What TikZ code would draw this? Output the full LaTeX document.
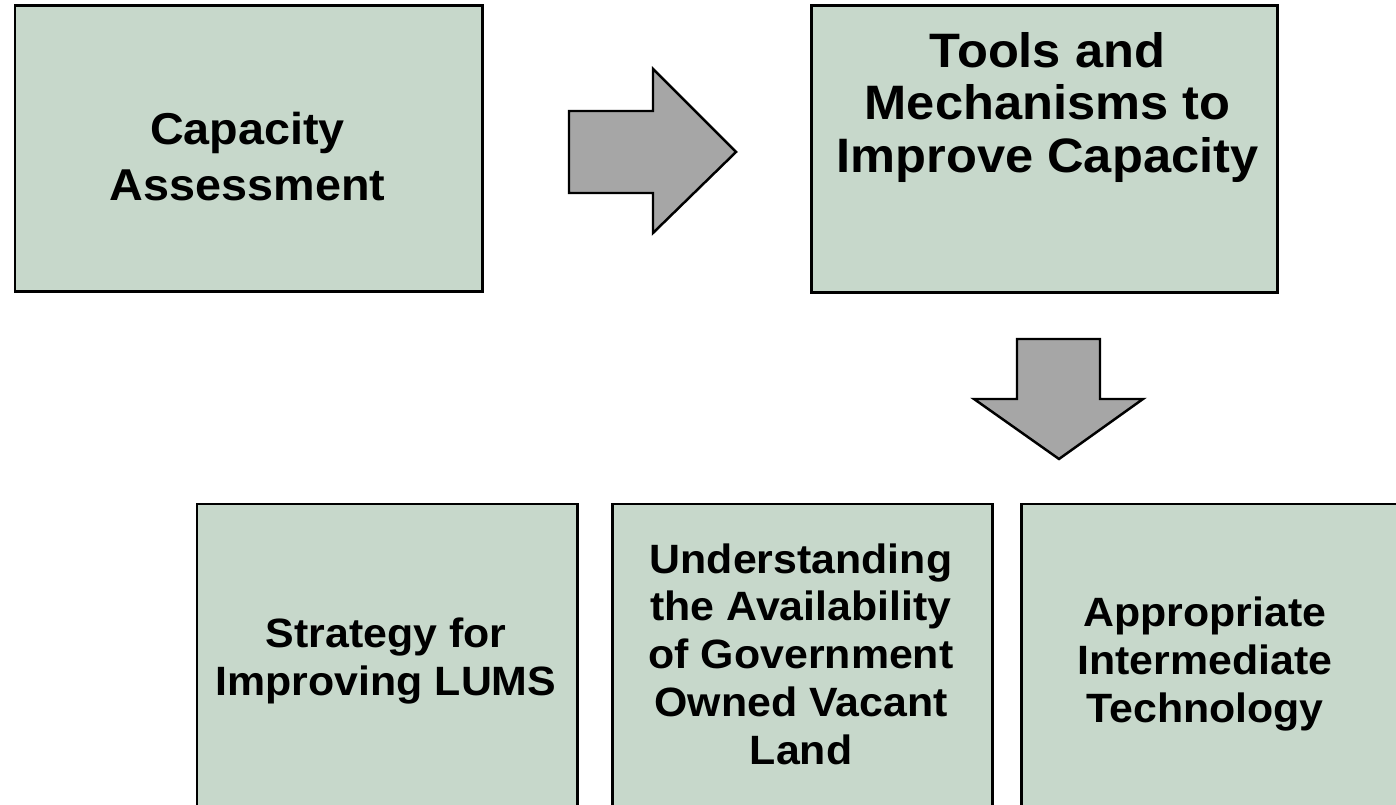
\documentclass[tikz,border=0pt]{standalone}
\usepackage{fontspec}
\setmainfont[FakeStretch=1.047]{Liberation Sans}
\definecolor{sage}{HTML}{C7D8CB}
\definecolor{arrowgray}{HTML}{A6A6A6}

\tikzstyle{box}=[shape=rectangle,draw=black,fill=sage,line width=1.7pt]
\tikzstyle{bigtext}=[align=center,inner sep=0pt,font=\bfseries\fontsize{25.4}{31.5}\selectfont]
\tikzstyle{smalltext}=[align=center,inner sep=0pt,font=\bfseries\fontsize{23.3}{27.2}\selectfont]
\tikzstyle{blockarrow}=[draw=black,fill=arrowgray,line width=1.4pt,line join=miter]

\begin{document}
\begin{tikzpicture}[]
\useasboundingbox (0,0) rectangle (27.92,16.08);
\clip (0,0) rectangle (27.92,16.08);
% top row
\node[box,minimum width=9.34cm,minimum height=5.72cm] (cap) at (4.97,13.10) {};
\node[bigtext] (capText) at (4.95,12.95) {Capacity\\Assessment};
\node[box,minimum width=9.32cm,minimum height=5.74cm] (tools) at (20.88,13.09) {};
\node[bigtext,font=\bfseries\fontsize{27.5}{29.8}\selectfont] (toolsText) at (20.95,13.93)
    {Tools and\\Mechanisms to\\Improve Capacity};
% bottom row
\node[box,minimum width=7.60cm,minimum height=6.12cm] (lums) at (7.74,2.94) {};
\node[smalltext] (lumsText) at (7.72,2.86) {Strategy for\\Improving LUMS};
\node[box,minimum width=7.60cm,minimum height=6.12cm] (land) at (16.04,2.94) {};
\node[smalltext] (landText) at (16.02,3.00) {Understanding\\the Availability\\of Government\\Owned Vacant\\Land};
\node[box,minimum width=7.58cm,minimum height=6.12cm] (tech) at (24.21,2.94) {};
\node[smalltext] (techText) at (24.10,2.80) {Appropriate\\Intermediate\\Technology};
% block arrows
\draw[blockarrow] (11.38,13.86) -- (13.06,13.86) -- (13.06,14.70) -- (14.72,13.04)
    -- (13.06,11.42) -- (13.06,12.22) -- (11.38,12.22) -- cycle;
\draw[blockarrow] (20.34,9.30) -- (22.00,9.30) -- (22.00,8.10) -- (22.86,8.10)
    -- (21.18,6.90) -- (19.48,8.10) -- (20.34,8.10) -- cycle;
\end{tikzpicture}
\end{document}
